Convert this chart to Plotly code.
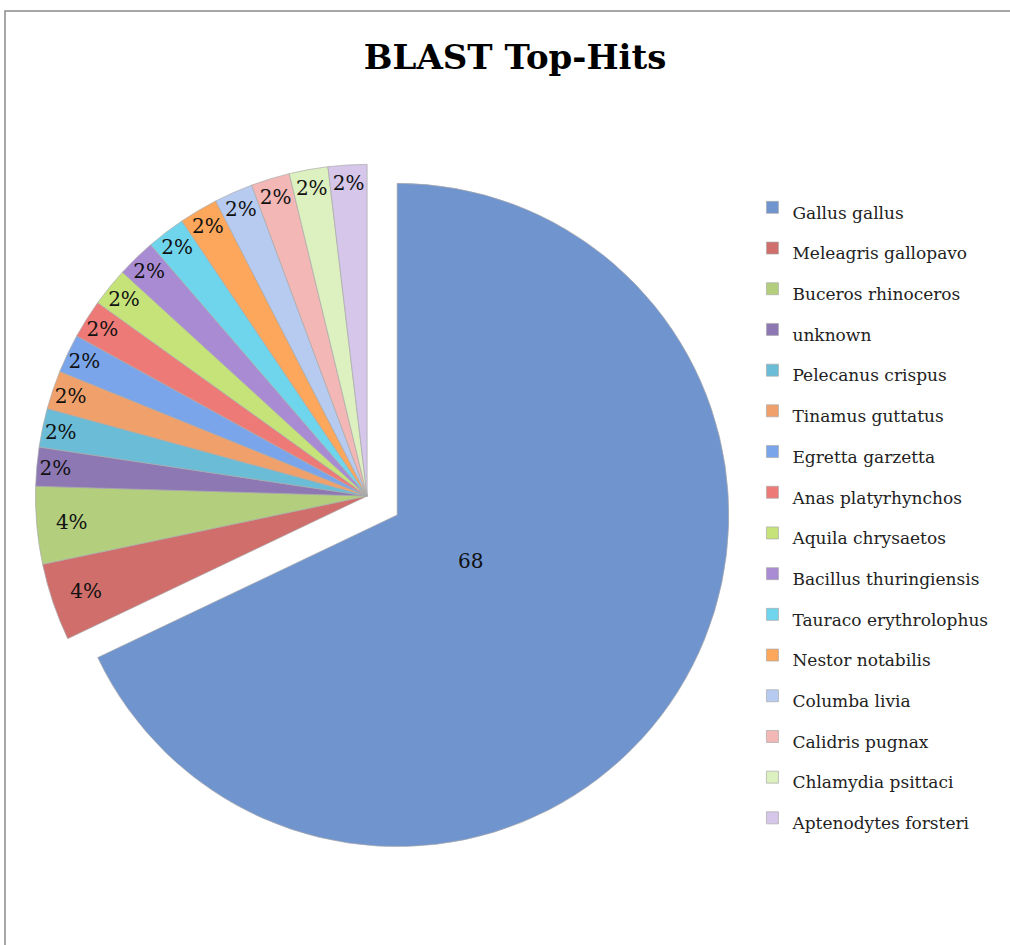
import plotly.graph_objects as go

species = ["Gallus gallus", "Meleagris gallopavo", "Buceros rhinoceros", "unknown",
           "Pelecanus crispus", "Tinamus guttatus", "Egretta garzetta", "Anas platyrhynchos",
           "Aquila chrysaetos", "Bacillus thuringiensis", "Tauraco erythrolophus",
           "Nestor notabilis", "Columba livia", "Calidris pugnax", "Chlamydia psittaci",
           "Aptenodytes forsteri"]
hits = [36, 2, 2, 1, 1, 1, 1, 1, 1, 1, 1, 1, 1, 1, 1, 1]
colors = ["#7094CE", "#D06E6B", "#B3CF7E", "#8D78B4", "#6BBCD6", "#F0A06A",
          "#7AA5EA", "#EE7A78", "#C6E37A", "#A98BD3", "#6FD5EC", "#FCA75B",
          "#B7CBF1", "#F3B7B6", "#DDF0BF", "#D5C6EA"]

total = sum(hits)
pcts = [round(v / total * 100) for v in hits]
slice_text = [str(p) if i == 0 else f"{p}%" for i, p in enumerate(pcts)]
n = len(hits)

FONT = "DejaVu Serif"
TXT = dict(family=FONT, size=20, color="#111111")

# main pie: all slices, labels on the small slices
fig = go.Figure(go.Pie(
    labels=[f"<span style='font-size:17px'>{s}</span>" for s in species],
    values=hits,
    text=[""] + slice_text[1:],
    textinfo="text",
    textposition="inside",
    insidetextorientation="horizontal",
    textfont=TXT,
    marker=dict(colors=colors, line=dict(color="rgba(170,170,170,0.7)", width=1)),
    pull=[0.107] + [0] * (n - 1),
    sort=False,
    direction="clockwise",
    rotation=0,
    domain=dict(x=[0.0, 0.727], y=[0.0862, 0.864]),
    hoverinfo="label+percent",
))

# transparent companion pie (same centre) carrying the big-slice label closer to the centre
fig.add_trace(go.Pie(
    labels=species,
    values=hits,
    text=[slice_text[0]] + [""] * (n - 1),
    textinfo="text",
    textposition="inside",
    insidetextorientation="horizontal",
    textfont=TXT,
    marker=dict(colors=["rgba(0,0,0,0)"] * n, line=dict(width=0)),
    pull=[0.205] + [0] * (n - 1),
    sort=False,
    direction="clockwise",
    rotation=0,
    domain=dict(x=[0.1558, 0.5709], y=[0.2533, 0.6969]),
    showlegend=False,
    hoverinfo="skip",
))

fig.update_layout(
    width=1010, height=945,
    margin=dict(l=0, r=0, t=0, b=0),
    paper_bgcolor="white",
    title=dict(text="<b>BLAST Top-Hits</b>", x=0.51, xanchor="center",
               y=1 - 57 / 945, yanchor="middle",
               font=dict(family=FONT, size=34, color="#000000")),
    uniformtext=dict(minsize=20, mode="show"),
    legend=dict(x=0.745, xanchor="left", y=1 - 182 / 945, yanchor="top",
                font=dict(family=FONT, size=29, color="#222222"),
                bgcolor="rgba(0,0,0,0)"),
    shapes=[dict(type="rect", xref="paper", yref="paper",
                 x0=5 / 1010, x1=1.05, y0=-0.05, y1=1 - 11 / 945,
                 line=dict(color="#8a8a8a", width=1.5), layer="below")],
)

fig.write_html("out.html", config={"displayModeBar": False},
               post_script="document.body.style.margin='0px';")
